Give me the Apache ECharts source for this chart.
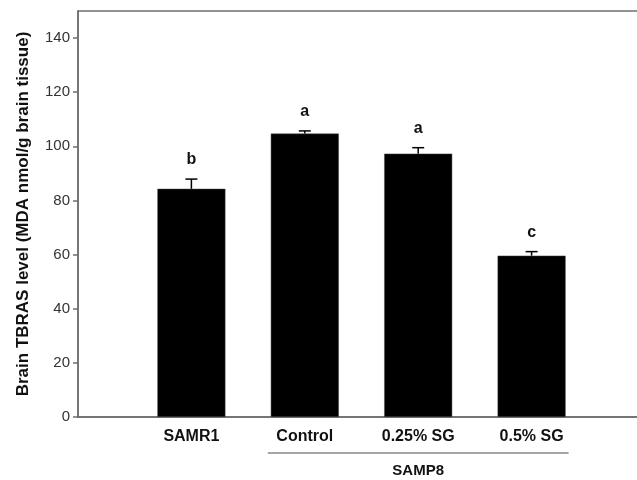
<!DOCTYPE html>
<html>
<head>
<meta charset="utf-8">
<script src="https://cdn.jsdelivr.net/npm/echarts@6/dist/echarts.min.js"></script>
<style>
  html, body { margin: 0; padding: 0; background: #fff; }
  #main { width: 637px; height: 480px; }
</style>
</head>
<body>
<div id="main"></div>
<script>
// groups and values
var categories = ['SAMR1', 'Control', '0.25% SG', '0.5% SG'];
var means = [84.3, 104.7, 97.3, 59.6];
var errors = [3.6, 1.0, 2.2, 1.5];
var letters = ['b', 'a', 'a', 'c'];
var groupName = 'SAMP8';
var groupFrom = 1, groupTo = 3; // index range under SAMP8
var yTicks = [0, 20, 40, 60, 80, 100, 120, 140];

var axisGrey = '#6e6e6e';
var fontFam = 'Liberation Sans, Arial, sans-serif';

var barData = means.map(function (v, i) { return [i + 1, v]; });
var errData = means.map(function (v, i) { return [i + 1, v, v + errors[i], letters[i]]; });

var myChart = echarts.init(document.getElementById('main'));

var option = {
    animation: false,
    grid: {
        left: 78, top: 11, bottom: 63, right: -8,
        outerBoundsMode: 'none',
        show: true, borderColor: axisGrey, borderWidth: 1.5
    },
    xAxis: {
        type: 'value',
        min: 0, max: 5, interval: 1,
        splitLine: { show: false },
        axisLine: { show: true, lineStyle: { color: axisGrey, width: 1.5 } },
        axisTick: { show: false },
        axisLabel: {
            margin: 12,
            fontFamily: fontFam, fontSize: 16, fontWeight: 'bold', color: '#111',
            formatter: function (v) { return categories[v - 1] || ''; }
        }
    },
    yAxis: {
        type: 'value',
        min: 0, max: 150, interval: 20,
        name: 'Brain TBRAS level (MDA nmol/g brain tissue)',
        nameLocation: 'middle', nameGap: 46,
        nameTextStyle: { fontFamily: fontFam, fontSize: 17, fontWeight: 'bold', color: '#111' },
        splitLine: { show: false },
        axisLine: { show: true, lineStyle: { color: axisGrey, width: 1.5 } },
        axisTick: { show: true, inside: false, length: 5, customValues: yTicks,
                    lineStyle: { color: axisGrey, width: 1.5 } },
        axisLabel: {
            fontFamily: fontFam, fontSize: 15, color: '#333', margin: 8,
            customValues: yTicks
        }
    },
    series: [
        {
            type: 'bar',
            data: barData,
            barWidth: 68,
            itemStyle: { color: '#000', borderColor: '#444', borderWidth: 0.5 }
        },
        {
            type: 'custom',
            data: errData,
            renderItem: function (params, api) {
                var mid = api.coord([api.value(0), api.value(1)]);
                var top = api.coord([api.value(0), api.value(2)]);
                var cap = 6;
                return {
                    type: 'group',
                    children: [
                        { type: 'line', shape: { x1: top[0], y1: mid[1], x2: top[0], y2: top[1] },
                          style: { stroke: '#000', lineWidth: 1.5 } },
                        { type: 'line', shape: { x1: top[0] - cap, y1: top[1], x2: top[0] + cap, y2: top[1] },
                          style: { stroke: '#000', lineWidth: 1.5 } },
                        { type: 'text', x: top[0], y: top[1] - 11,
                          style: { text: api.value(3), fontFamily: fontFam, fontSize: 16, fontWeight: 'bold',
                                   fill: '#111', align: 'center', verticalAlign: 'bottom' } }
                    ]
                };
            },
            z: 5
        }
    ]
};
myChart.setOption(option);

// SAMP8 bracket under the Control..0.5% SG labels
var pFrom = myChart.convertToPixel({ gridIndex: 0 }, [groupFrom + 1, 0]);
var pTo = myChart.convertToPixel({ gridIndex: 0 }, [groupTo + 1, 0]);
var half = 37;
var lineY = pFrom[1] + 36;
myChart.setOption({
    graphic: [
        { type: 'line', shape: { x1: pFrom[0] - half, y1: lineY, x2: pTo[0] + half, y2: lineY },
          style: { stroke: '#888', lineWidth: 1.5 } },
        { type: 'text', x: (pFrom[0] + pTo[0]) / 2, y: lineY + 18,
          style: { text: groupName, fontFamily: fontFam, fontSize: 15, fontWeight: 'bold',
                   fill: '#111', align: 'center', verticalAlign: 'middle' } }
    ]
});
</script>
</body>
</html>
